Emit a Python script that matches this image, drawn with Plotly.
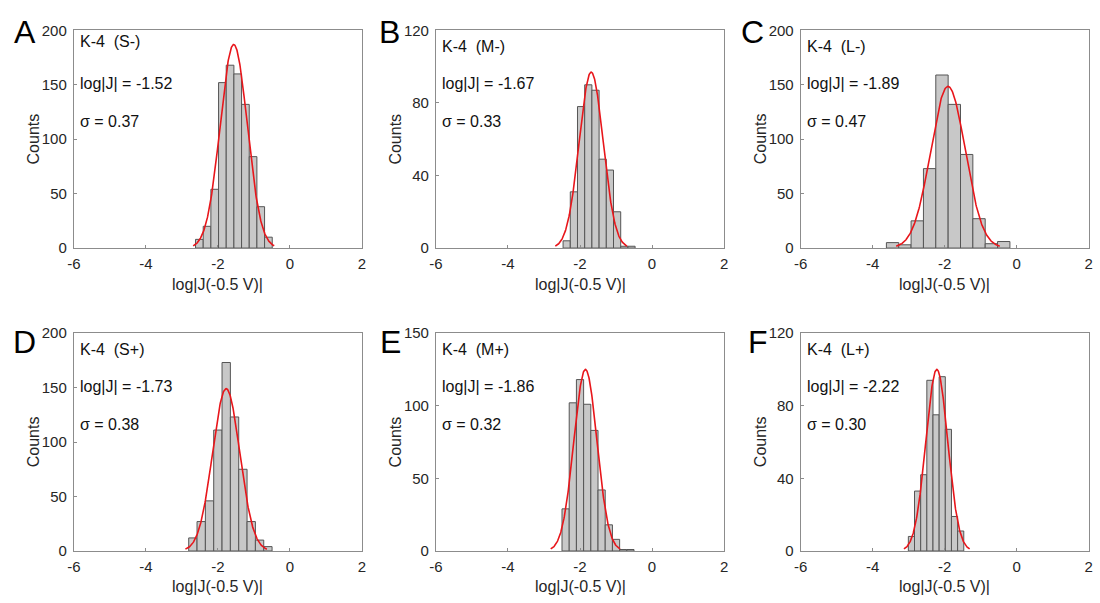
import numpy as np
import plotly.graph_objects as go

# ---------------- data ----------------
letters = ["A", "B", "C", "D", "E", "F"]
samples = ["S-", "M-", "L-", "S+", "M+", "L+"]
logj_text = ["-1.52", "-1.67", "-1.89", "-1.73", "-1.86", "-2.22"]
sigma_text = ["0.37", "0.33", "0.47", "0.38", "0.32", "0.30"]

counts_A = [8, 20, 54, 152, 168, 160, 132, 84, 38, 10]
counts_B = [4, 31, 78, 90, 87, 49, 43, 20, 1, 1]
counts_C = [5, 3, 25, 73, 159, 132, 86, 27, 4, 6]
counts_D = [12, 27, 46, 111, 173, 123, 75, 27, 10, 4]
counts_E = [29, 102, 118, 101, 83, 42, 18, 8, 1, 1]
counts_F = [8, 33, 42, 94, 75, 96, 67, 19, 11]
counts_all = [counts_A, counts_B, counts_C, counts_D, counts_E, counts_F]

bin_start = [-2.62, -2.47, -3.62, -2.81, -2.50, -3.01]
bin_width = [0.213, 0.200, 0.343, 0.2315, 0.200, 0.171]

fit_mean = [-1.56, -1.69, -1.91, -1.77, -1.85, -2.22]
fit_sigma = [0.375, 0.332, 0.479, 0.377, 0.321, 0.304]
fit_peak = [187, 97, 148.5, 149, 125, 100]

y_max = [200, 120, 200, 200, 150, 120]
y_step = [50, 40, 50, 50, 50, 40]
x_ticks = [-6, -4, -2, 0, 2]
x_ticktext = ["-6", "-4", "-2", "0", "2"]

# ---------------- layout geometry (pixels) ----------------
W, H = 1100, 603
col_x = [(67.5, 358.5), (433.3, 724.3), (801.7, 1092.7)]
row_y = [(22.0, 246.0), (333.5, 557.7)]
letter_pos = [(18, 24), (386, 24), (753, 24), (18, 343), (387, 343), (759, 343)]
k4_offset = [11, 17, 17, 17, 17, 17]

FONT = "Liberation Sans, Arial, sans-serif"
FRAME = "#8c8c8c"
TXT = "#262626"

fig = go.Figure()
annotations = []

for i in range(6):
    r, c = divmod(i, 3)
    x0, x1 = col_x[c]
    y0, y1 = row_y[r]
    xa = "x" if i == 0 else f"x{i+1}"
    ya = "y" if i == 0 else f"y{i+1}"
    key = "" if i == 0 else str(i + 1)

    cnt = counts_all[i]
    w = bin_width[i]
    centers = [bin_start[i] + (k + 0.5) * w for k in range(len(cnt))]

    fig.add_trace(go.Bar(
        x=centers, y=cnt, width=[w] * len(cnt),
        marker=dict(color="#c8c8c8", line=dict(color="#555555", width=1)),
        xaxis=xa, yaxis=ya, showlegend=False, hoverinfo="x+y",
    ))

    m, s, pk = fit_mean[i], fit_sigma[i], fit_peak[i]
    xf = np.linspace(m - 3 * s, m + 3 * s, 241)
    yf = pk * np.exp(-((xf - m) ** 2) / (2 * s ** 2))
    fig.add_trace(go.Scatter(
        x=xf, y=yf, mode="lines", line=dict(color="#e8161b", width=1.6),
        xaxis=xa, yaxis=ya, showlegend=False, hoverinfo="skip",
    ))

    fig.layout["xaxis" + key] = dict(
        domain=[x0 / W, x1 / W], anchor=ya, range=[-6, 2],
        tickvals=x_ticks, ticktext=x_ticktext,
        ticks="inside", ticklen=3, tickcolor=FRAME, tickwidth=1,
        showline=True, linecolor=FRAME, linewidth=1, mirror=True,
        showgrid=False, zeroline=False,
        tickfont=dict(family=FONT, size=15, color=TXT),
        ticklabelstandoff=2,
    )
    fig.layout["yaxis" + key] = dict(
        domain=[1 - y1 / H, 1 - y0 / H], anchor=xa, range=[0, y_max[i]],
        tick0=0, dtick=y_step[i],
        ticks="inside", ticklen=3, tickcolor=FRAME, tickwidth=1,
        showline=True, linecolor=FRAME, linewidth=1, mirror=True,
        showgrid=False, zeroline=False,
        tickfont=dict(family=FONT, size=15, color=TXT),
        ticklabelstandoff=3,
    )

    # axis titles
    annotations.append(dict(
        text="log|J(-0.5 V)|", xref="paper", yref="paper",
        x=(x0 + x1) / 2 / W, y=1 - (y1 + 37) / H,
        xanchor="center", yanchor="middle", showarrow=False,
        font=dict(family=FONT, size=16, color=TXT),
    ))
    annotations.append(dict(
        text="Counts", xref="paper", yref="paper",
        x=(x0 - 41) / W, y=1 - (y0 + y1) / 2 / H, textangle=-90,
        xanchor="center", yanchor="middle", showarrow=False,
        font=dict(family=FONT, size=16, color=TXT),
    ))
    # in-panel labels
    lines = [
        (f"K-4 \u00a0({samples[i]})", k4_offset[i]),
        (f"log|J| = {logj_text[i]}", 55),
        (f"\u03c3 = {sigma_text[i]}", 94),
    ]
    for txt, off in lines:
        annotations.append(dict(
            text=txt, xref="paper", yref="paper",
            x=(x0 + 4) / W, y=1 - (y0 + off) / H,
            xanchor="left", yanchor="middle", showarrow=False,
            font=dict(family=FONT, size=16, color="#111111"),
        ))
    # panel letter
    lx, ly = letter_pos[i]
    annotations.append(dict(
        text=letters[i], xref="paper", yref="paper",
        x=lx / W, y=1 - ly / H, xanchor="center", yanchor="middle",
        showarrow=False, font=dict(family=FONT, size=32, color="#000000"),
    ))

fig.update_layout(
    width=W, height=H, margin=dict(l=0, r=0, t=0, b=0),
    paper_bgcolor="white", plot_bgcolor="white",
    annotations=annotations, barmode="overlay",
)

fig.write_html(
    "out.html",
    post_script="document.body.style.margin='0';document.body.style.padding='0';",
)
